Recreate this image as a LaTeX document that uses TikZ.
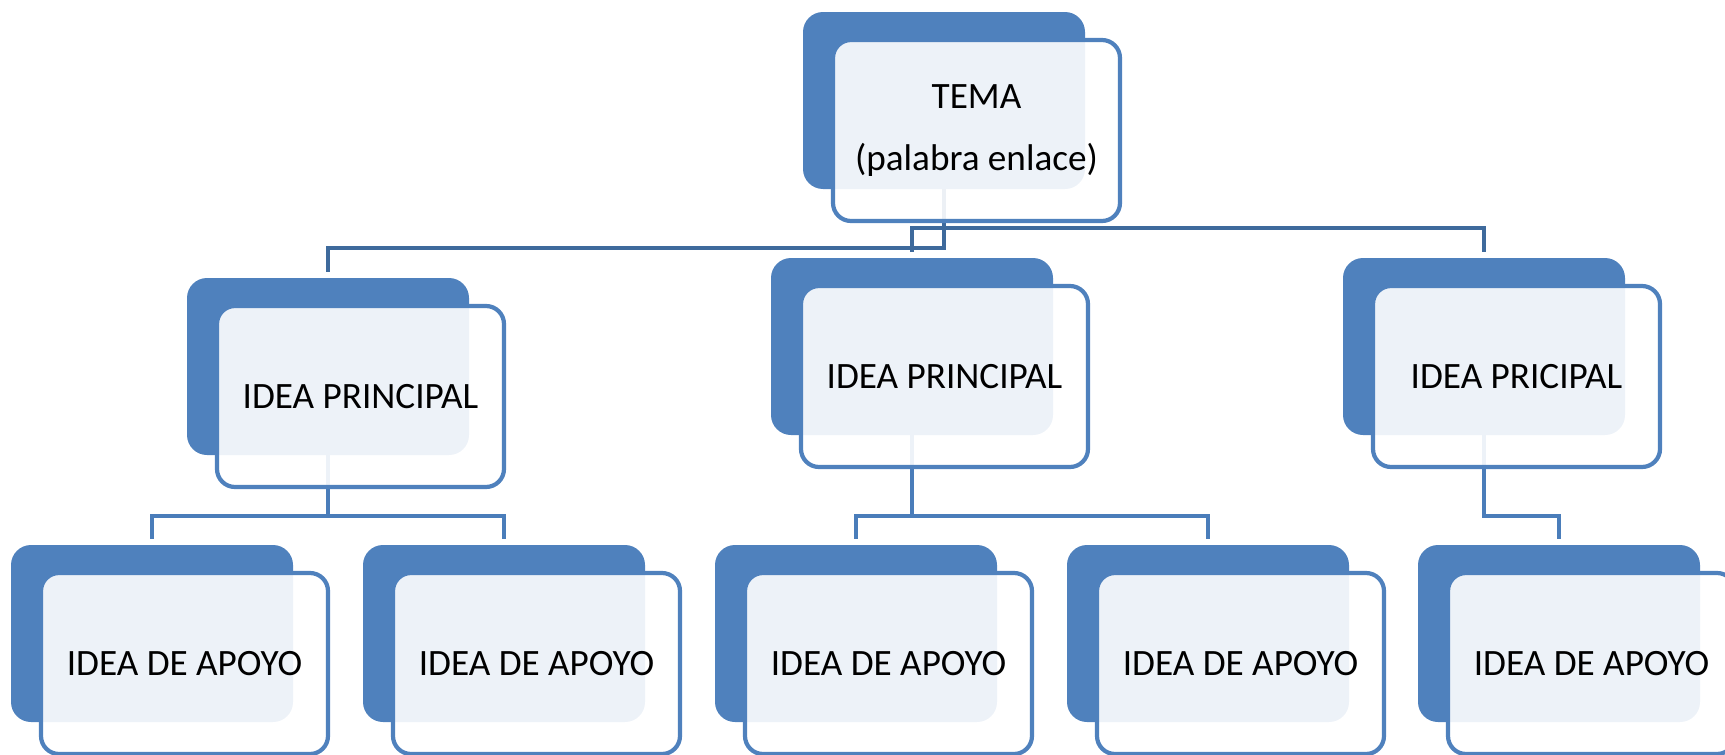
\documentclass[tikz,border=0pt]{standalone}
\usepackage{fontspec}
\setmainfont{Carlito}
\usetikzlibrary{positioning}
\pgfdeclarelayer{bg}
\pgfsetlayers{bg,main}
\definecolor{boxblue}{HTML}{4F81BD}
\definecolor{topline}{HTML}{3E6A9C}
\definecolor{lowline}{HTML}{4A7DBA}
\tikzset{
  darkbox/.style={anchor=north west, fill=boxblue, draw=none, rounded corners=10pt,
    minimum width=141pt, minimum height=88.5pt, inner sep=0pt, outer sep=0pt},
  lightbox/.style={anchor=north west, draw=boxblue, line width=2.1pt, rounded corners=9pt,
    fill=white, fill opacity=0.9, text opacity=1, minimum width=143.5pt, minimum height=90.5pt,
    inner sep=0pt, outer sep=0pt, align=center, font=\fontsize{18.6pt}{29pt}\selectfont},
  topconn/.style={draw=topline, line width=2.1pt, shorten >=3pt},
  lowconn/.style={draw=lowline, line width=2.1pt, shorten >=3pt},
}
\begin{document}
\begin{tikzpicture}[x=0.5pt,y=-0.5pt]
\useasboundingbox (0,0) rectangle (1725,755);
\clip (0,0) rectangle (1725,755);
% dark boxes
\node[darkbox] (dT) at (803,12) {};
\node[darkbox] (d1) at (187,278) {};
\node[darkbox] (d2) at (771,258) {};
\node[darkbox] (d3) at (1343,258) {};
\node[darkbox] (e1) at (11,545) {};
\node[darkbox] (e2) at (363,545) {};
\node[darkbox] (e3) at (715,545) {};
\node[darkbox] (e4) at (1067,545) {};
\node[darkbox] (e5) at (1418,545) {};
% light boxes
\node[lightbox] (lT) at (833,40) {TEMA\\[2pt](palabra enlace)};
\node[lightbox] (l1) at (217,306) {IDEA PRINCIPAL};
\node[lightbox] (l2) at (801,286) {IDEA PRINCIPAL};
\node[lightbox] (l3) at (1373,286) {IDEA PRICIPAL};
\node[lightbox] (m1) at (41,573) {IDEA DE APOYO};
\node[lightbox] (m2) at (393,573) {IDEA DE APOYO};
\node[lightbox] (m3) at (745,573) {IDEA DE APOYO};
\node[lightbox] (m4) at (1097,573) {IDEA DE APOYO};
\node[lightbox] (m5) at (1448,573) {IDEA DE APOYO};
% connectors
\begin{pgfonlayer}{bg}
\draw[topconn] (dT.south) -- (dT.south |- 0,248) -| (d1.north);
\draw[topconn] (dT.south) -- (dT.south |- 0,228) -| (d2.north);
\draw[topconn] (dT.south) -- (dT.south |- 0,228) -| (d3.north);
\draw[lowconn] (d1.south) -- (d1.south |- 0,516) -| (e1.north);
\draw[lowconn] (d1.south) -- (d1.south |- 0,516) -| (e2.north);
\draw[lowconn] (d2.south) -- (d2.south |- 0,516) -| (e3.north);
\draw[lowconn] (d2.south) -- (d2.south |- 0,516) -| (e4.north);
\draw[lowconn] (d3.south) -- (d3.south |- 0,516) -| (e5.north);
\end{pgfonlayer}
\end{tikzpicture}
\end{document}
